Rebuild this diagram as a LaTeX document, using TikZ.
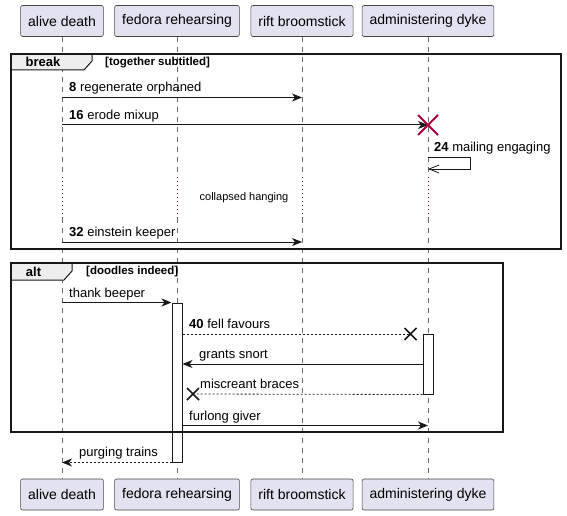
\documentclass[tikz,border=0pt]{standalone}
\usepackage{fontspec}
\setmainfont{Liberation Sans}
\usetikzlibrary{arrows.meta}
\definecolor{ink}{HTML}{181818}
\definecolor{partfill}{HTML}{E2E2F0}
\definecolor{xred}{HTML}{A80036}
\definecolor{tabfill}{HTML}{EEEEEE}
\tikzset{
	part/.style={draw=ink!80,line width=0.6pt,fill=partfill,rounded corners=2pt,inner xsep=7.5pt,minimum height=31pt,font=\fontsize{14}{16}\selectfont},
	lifeline/.style={draw=ink!65,line width=0.6pt,dash pattern=on 5pt off 5pt},
	delayline/.style={draw=xred,line width=0.8pt,dash pattern=on 1pt off 3pt},
	msg/.style={draw=ink,line width=1pt,-{Stealth[length=10pt,width=8pt,inset=3pt]}},
	reply/.style={msg,line width=0.8pt,dash pattern=on 2pt off 2pt},
	lost/.style={draw=ink,line width=0.8pt,dash pattern=on 2pt off 2pt},
	selfmsg/.style={draw=ink,line width=0.8pt,-{Straight Barb[length=10pt,width=8pt]}},
	lbl/.style={anchor=base west,inner sep=0pt,font=\fontsize{13}{15}\selectfont},
	guard/.style={anchor=west,inner sep=0pt,font=\fontsize{11.5}{13}\selectfont\bfseries},
	tabtitle/.style={inner sep=0pt,font=\fontsize{13}{15}\selectfont\bfseries},
	frame/.style={draw=ink,line width=1.5pt},
	tab/.style={draw=ink,fill=tabfill,line width=1pt},
	actbar/.style={draw=ink,fill=white,line width=1pt,minimum width=10pt,inner sep=0pt},
	xmark/.style={draw=ink,line width=1.6pt}
}
\begin{document}
\begin{tikzpicture}[x=1pt,y=-1pt]
	\useasboundingbox (0,0) rectangle (567,516);
	\node [part] (alive) at (62,21) {alive death};
	\node [part] (fedora) at (177,21) {fedora rehearsing};
	\node [part] (rift) at (302,21) {rift broomstick};
	\node [part] (admin) at (428,21) {administering dyke};
	\node [part] (alive-b) at (62,494.5) {alive death};
	\node [part] (fedora-b) at (177,494.5) {fedora rehearsing};
	\node [part] (rift-b) at (302,494.5) {rift broomstick};
	\node [part] (admin-b) at (428,494.5) {administering dyke};

	\coordinate (dtop) at (0,177);
	\coordinate (dbot) at (0,218);
	\foreach \p in {alive,fedora,rift,admin}{
		\draw [lifeline] (\p.south) -- (\p |- dtop);
		\draw [delayline] (\p |- dtop) -- (\p |- dbot);
		\draw [lifeline] (\p |- dbot) -- (\p-b.north);
	}

	\draw [tab] (11,54) -- (92,54) -- (92,61) -- (84,70) -- (11,70) -- cycle;
	\draw [frame] (11,54) rectangle (561,249);
	\node [tabtitle] (break) at (43,62) {break};
	\node [guard] (break-guard) at (105,62.5) {[together subtitled]};

	\coordinate (r8) at (0,97.5);
	\draw [msg] (alive |- r8) -- (rift |- r8);
	\node [lbl] (l8) at (69,92) {\textbf{8} regenerate orphaned};

	\coordinate (r16) at (0,125);
	\draw [msg] (alive |- r16) -- (admin |- r16);
	\draw [xmark,draw=xred,line width=2pt] (admin |- r16) ++(-10,-10) -- ++(20,20) ++(0,-20) -- ++(-20,20);
	\node [lbl] (l16) at (69,119.5) {\textbf{16} erode mixup};

	\coordinate (r24) at (0,157);
	\draw [selfmsg] (admin |- r24) -- ++(42,0) -- ++(0,12) -- ++(-42,0);
	\node [lbl] (l24) at (434,151) {\textbf{24} mailing engaging};

	\node [inner sep=0pt,font=\fontsize{11}{13}\selectfont] (delay) at (244,198) {collapsed hanging};

	\coordinate (r32) at (0,242);
	\draw [msg] (alive |- r32) -- (rift |- r32);
	\node [lbl] (l32) at (69,236.5) {\textbf{32} einstein keeper};

	\node [actbar,minimum height=159pt] (act-fedora) at (177,382.5) {};
	\node [actbar,minimum height=60pt] (act-admin) at (428,364) {};

	\draw [tab] (11,263) -- (72,263) -- (72,271) -- (64,280) -- (11,280) -- cycle;
	\draw [frame] (11,263) rectangle (503,432);
	\node [tabtitle] (alt) at (33.5,271.5) {alt};
	\node [guard] (alt-guard) at (86,272) {[doodles indeed]};

	\draw [msg] (alive |- act-fedora.north) -- (act-fedora.north west);
	\node [lbl] (l-thank) at (69,297.5) {thank beeper};

	\coordinate (x40) at (410.5,334);
	\draw [lost] (act-fedora.east |- x40) -- (x40);
	\draw [xmark] (x40) ++(-6,-6) -- ++(12,12) ++(0,-12) -- ++(-12,12);
	\node [lbl] (l40) at (189,328.5) {\textbf{40} fell favours};

	\draw [msg] (act-admin.west) -- (act-fedora.east |- act-admin.west);
	\node [lbl] (l-grants) at (199,358.5) {grants snort};

	\coordinate (x-misc) at (193,394);
	\draw [lost] (act-admin.south west) -- (x-misc);
	\draw [xmark] (x-misc) ++(-6,-6) -- ++(12,12) ++(0,-12) -- ++(-12,12);
	\node [lbl] (l-misc) at (200,388.5) {miscreant braces};

	\coordinate (r-furl) at (0,425.5);
	\draw [msg] (act-fedora.east |- r-furl) -- (admin |- r-furl);
	\node [lbl] (l-furl) at (189,420) {furlong giver};

	\draw [reply] (act-fedora.south west) -- (alive |- act-fedora.south);
	\node [lbl] (l-purge) at (79,456.5) {purging trains};
\end{tikzpicture}
\end{document}
